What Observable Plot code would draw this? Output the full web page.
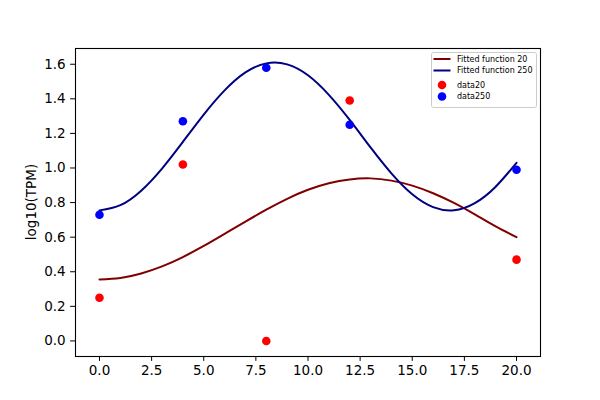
<!DOCTYPE html>
<html><head><meta charset="utf-8">
<script src="https://cdn.jsdelivr.net/npm/d3@7"></script>
<script src="https://cdn.jsdelivr.net/npm/@observablehq/plot@0.6"></script>
<style>body{margin:0;background:#fff}</style>
</head><body><div id="chart"></div>
<script>
// Observed data points
const dataX = [0, 4, 8, 12, 20];
const data20 = [0.25, 1.02, 0.00, 1.39, 0.47];
const data250 = [0.73, 1.27, 1.58, 1.25, 0.99];

// Fitted curves at integer x
const fitX = [0,1,2,3,4,5,6,7,8,9,10,11,12,13,14,15,16,17,18,19,20];
const fit20 = [0.355,0.364,0.390,0.431,0.485,0.549,0.619,0.690,0.759,0.822,0.874,0.912,0.934,0.940,0.927,0.898,0.854,0.798,0.732,0.662,0.600];
const fit250 = [0.755,0.785,0.869,0.997,1.151,1.309,1.449,1.553,1.605,1.599,1.536,1.423,1.278,1.119,0.969,0.848,0.774,0.756,0.797,0.892,1.030];

const xTicks = [0, 2.5, 5, 7.5, 10, 12.5, 15, 17.5, 20];
const yTicks = [0, 0.2, 0.4, 0.6, 0.8, 1.0, 1.2, 1.4, 1.6];

const legendLabels = ["Fitted function 20", "Fitted function 250", "data20", "data250"];
const colLine20 = "#800000", colLine250 = "#000080", colDot20 = "#ff0000", colDot250 = "#0000ff";

const rows20 = fitX.map((x, i) => ({x, y: fit20[i]}));
const rows250 = fitX.map((x, i) => ({x, y: fit250[i]}));
const pts20 = dataX.map((x, i) => ({x, y: data20[i]}));
const pts250 = dataX.map((x, i) => ({x, y: data250[i]}));

const plot = Plot.plot({
  width: 600, height: 400,
  marginLeft: 75, marginRight: 60, marginTop: 48, marginBottom: 44,
  style: {fontFamily: "DejaVu Sans", fontSize: "13.5px", background: "#fff", color: "#000"},
  x: {domain: [-1.15, 21.15]},
  y: {domain: [-0.09, 1.691]},
  marks: [
    Plot.line(rows20, {x: "x", y: "y", stroke: colLine20, strokeWidth: 2, curve: "natural"}),
    Plot.line(rows250, {x: "x", y: "y", stroke: colLine250, strokeWidth: 2, curve: "natural"}),
    Plot.dot(pts20, {x: "x", y: "y", r: 4.3, fill: colDot20, stroke: "none"}),
    Plot.dot(pts250, {x: "x", y: "y", r: 4.3, fill: colDot250, stroke: "none"}),
    Plot.axisX({ticks: xTicks, tickFormat: d => d.toFixed(1), tickSize: 4.9, tickPadding: 4.5, label: null}),
    Plot.axisY({ticks: yTicks, tickFormat: d => d.toFixed(1), tickSize: 4.9, tickPadding: 4.9, label: null}),
    Plot.frame({stroke: "#000", strokeWidth: 1.1})
  ]
});

const svg = d3.select(plot);
svg.append("text")
  .attr("transform", "translate(31,202) rotate(-90)")
  .attr("text-anchor", "middle")
  .attr("dominant-baseline", "central")
  .attr("font-family", "DejaVu Sans")
  .attr("font-size", "13.5px")
  .attr("fill", "#000")
  .text("log10(TPM)");

// Legend
const lg = svg.append("g").attr("font-family", "DejaVu Sans").attr("font-size", "8px").attr("text-anchor", "start");
lg.append("rect").attr("x", 431.5).attr("y", 52.5).attr("width", 105).attr("height", 55)
  .attr("rx", 2).attr("fill", "#fff").attr("fill-opacity", 0.8).attr("stroke", "#cccccc").attr("stroke-width", 1);
const rowsY = [59, 70.5, 85, 96.5];
const kinds = [["line", colLine20], ["line", colLine250], ["dot", colDot20], ["dot", colDot250]];
kinds.forEach(([k, c], i) => {
  if (k === "line") {
    lg.append("line").attr("x1", 433.5).attr("x2", 450.5).attr("y1", rowsY[i]).attr("y2", rowsY[i])
      .attr("stroke", c).attr("stroke-width", 2);
  } else {
    lg.append("circle").attr("cx", 442).attr("cy", rowsY[i]).attr("r", 4.3).attr("fill", c);
  }
  lg.append("text").attr("x", 457).attr("y", rowsY[i]).attr("dominant-baseline", "central")
    .attr("text-anchor", "start").attr("fill", "#000").text(legendLabels[i]);
});

document.getElementById("chart").appendChild(plot);
</script>
</body></html>
